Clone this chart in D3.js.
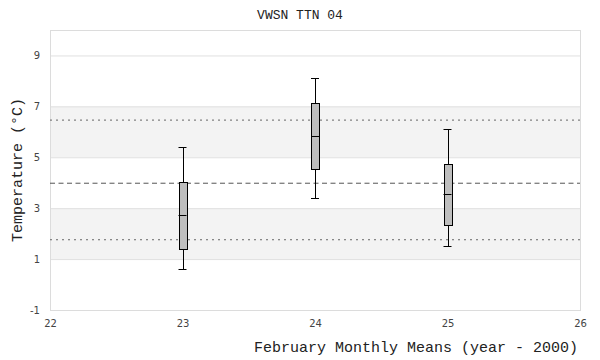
<!DOCTYPE html>
<html>
<head>
<meta charset="utf-8">
<script src="https://cdn.jsdelivr.net/npm/d3@7"></script>
<style>
  body { margin: 0; background: #fff; }
  .tick text { font-family: "DejaVu Sans", sans-serif; font-size: 10px; fill: #444; }
  .mono { font-family: "Liberation Mono", monospace; fill: #222; }
</style>
</head>
<body>
<div id="chart"></div>
<script>
// data
const years = [23, 24, 25];
const whiskerLow = [0.6, 3.4, 1.5];
const q1 = [1.42, 4.54, 2.34];
const median = [2.72, 5.82, 3.55];
const q3 = [4.04, 7.12, 4.72];
const whiskerHigh = [5.39, 8.1, 6.1];
const yTicks = [-1, 1, 3, 5, 7, 9];
const xTicks = [22, 23, 24, 25, 26];
const bands = [[1, 3], [5, 7]];
const meanLine = 4;
const sdLines = [6.48, 1.78];

const width = 600, height = 360;
const padding = { left: 50, right: 20, top: 30, bottom: 50 };

const svg = d3.select("#chart")
  .append("svg")
  .attr("width", width)
  .attr("height", height);

const x = d3.scaleLinear().domain([22, 26]).range([padding.left, width - padding.right]);
const y = d3.scaleLinear().domain([-1, 10]).range([height - padding.bottom, padding.top]);

// shaded bands
svg.append("g")
  .selectAll("rect")
  .data(bands)
  .enter()
  .append("rect")
  .attr("x", x(22))
  .attr("width", x(26) - x(22))
  .attr("y", d => y(d[1]))
  .attr("height", d => y(d[0]) - y(d[1]))
  .attr("fill", "#f3f3f3");

// grid
svg.append("g")
  .selectAll("line")
  .data(yTicks)
  .enter()
  .append("line")
  .attr("x1", x(22))
  .attr("x2", x(26))
  .attr("y1", d => y(d) + 0.5)
  .attr("y2", d => y(d) + 0.5)
  .attr("stroke", "#e0e0e0");

svg.append("rect")
  .attr("x", x(22) + 0.5)
  .attr("y", y(10) + 0.5)
  .attr("width", x(26) - x(22))
  .attr("height", y(-1) - y(10))
  .attr("fill", "none")
  .attr("stroke", "#dcdcdc");

// mean and spread lines
svg.append("line")
  .attr("x1", x(22)).attr("x2", x(26))
  .attr("y1", y(meanLine) + 0.5).attr("y2", y(meanLine) + 0.5)
  .attr("stroke", "#555")
  .attr("stroke-dasharray", "5,3.5");

svg.append("g")
  .selectAll("line")
  .data(sdLines)
  .enter()
  .append("line")
  .attr("x1", x(22)).attr("x2", x(26))
  .attr("y1", d => y(d) + 0.5).attr("y2", d => y(d) + 0.5)
  .attr("stroke", "#666")
  .attr("stroke-dasharray", "2,4");

// axes
const yAxis = d3.axisLeft(y).tickValues(yTicks).tickSize(0).tickPadding(10).tickFormat(d => String(d));
svg.append("g")
  .attr("transform", `translate(${padding.left},0)`)
  .call(yAxis)
  .call(g => g.select(".domain").remove());

const xAxis = d3.axisBottom(x).tickValues(xTicks).tickSize(0).tickPadding(10).tickFormat(d => String(d));
svg.append("g")
  .attr("transform", `translate(0,${height - padding.bottom})`)
  .call(xAxis)
  .call(g => g.select(".domain").remove());

// boxes
const boxW = 8;
const boxes = years.map((yr, i) => ({ yr, lo: whiskerLow[i], q1: q1[i], med: median[i], q3: q3[i], hi: whiskerHigh[i] }));
const box = svg.append("g")
  .selectAll("g")
  .data(boxes)
  .enter()
  .append("g")
  .attr("stroke", "#000")
  .attr("stroke-width", 1);

box.append("line")
  .attr("x1", d => Math.round(x(d.yr)) + 0.5).attr("x2", d => Math.round(x(d.yr)) + 0.5)
  .attr("y1", d => y(d.hi)).attr("y2", d => y(d.lo));
box.append("line")
  .attr("x1", d => x(d.yr) - boxW / 2).attr("x2", d => x(d.yr) + boxW / 2)
  .attr("y1", d => Math.round(y(d.hi)) + 0.5).attr("y2", d => Math.round(y(d.hi)) + 0.5);
box.append("line")
  .attr("x1", d => x(d.yr) - boxW / 2).attr("x2", d => x(d.yr) + boxW / 2)
  .attr("y1", d => Math.round(y(d.lo)) + 0.5).attr("y2", d => Math.round(y(d.lo)) + 0.5);
box.append("rect")
  .attr("x", d => Math.round(x(d.yr) - boxW / 2) + 0.5)
  .attr("width", boxW)
  .attr("y", d => Math.round(y(d.q3)) + 0.5)
  .attr("height", d => Math.round(y(d.q1) - y(d.q3)))
  .attr("fill", "#bebebe");
box.append("line")
  .attr("x1", d => x(d.yr) - boxW / 2).attr("x2", d => x(d.yr) + boxW / 2)
  .attr("y1", d => Math.round(y(d.med)) + 0.5).attr("y2", d => Math.round(y(d.med)) + 0.5);

// titles
svg.append("text")
  .attr("class", "mono")
  .attr("x", 300)
  .attr("y", 19)
  .attr("text-anchor", "middle")
  .style("font-size", "13px")
  .text("VWSN TTN 04");

svg.append("text")
  .attr("class", "mono")
  .attr("text-anchor", "middle")
  .attr("transform", `translate(22,170) rotate(-90)`)
  .style("font-size", "15px")
  .text("Temperature (°C)");

svg.append("text")
  .attr("class", "mono")
  .attr("x", 578)
  .attr("y", 352)
  .attr("text-anchor", "end")
  .style("font-size", "15px")
  .text("February Monthly Means (year - 2000)");
</script>
</body>
</html>
